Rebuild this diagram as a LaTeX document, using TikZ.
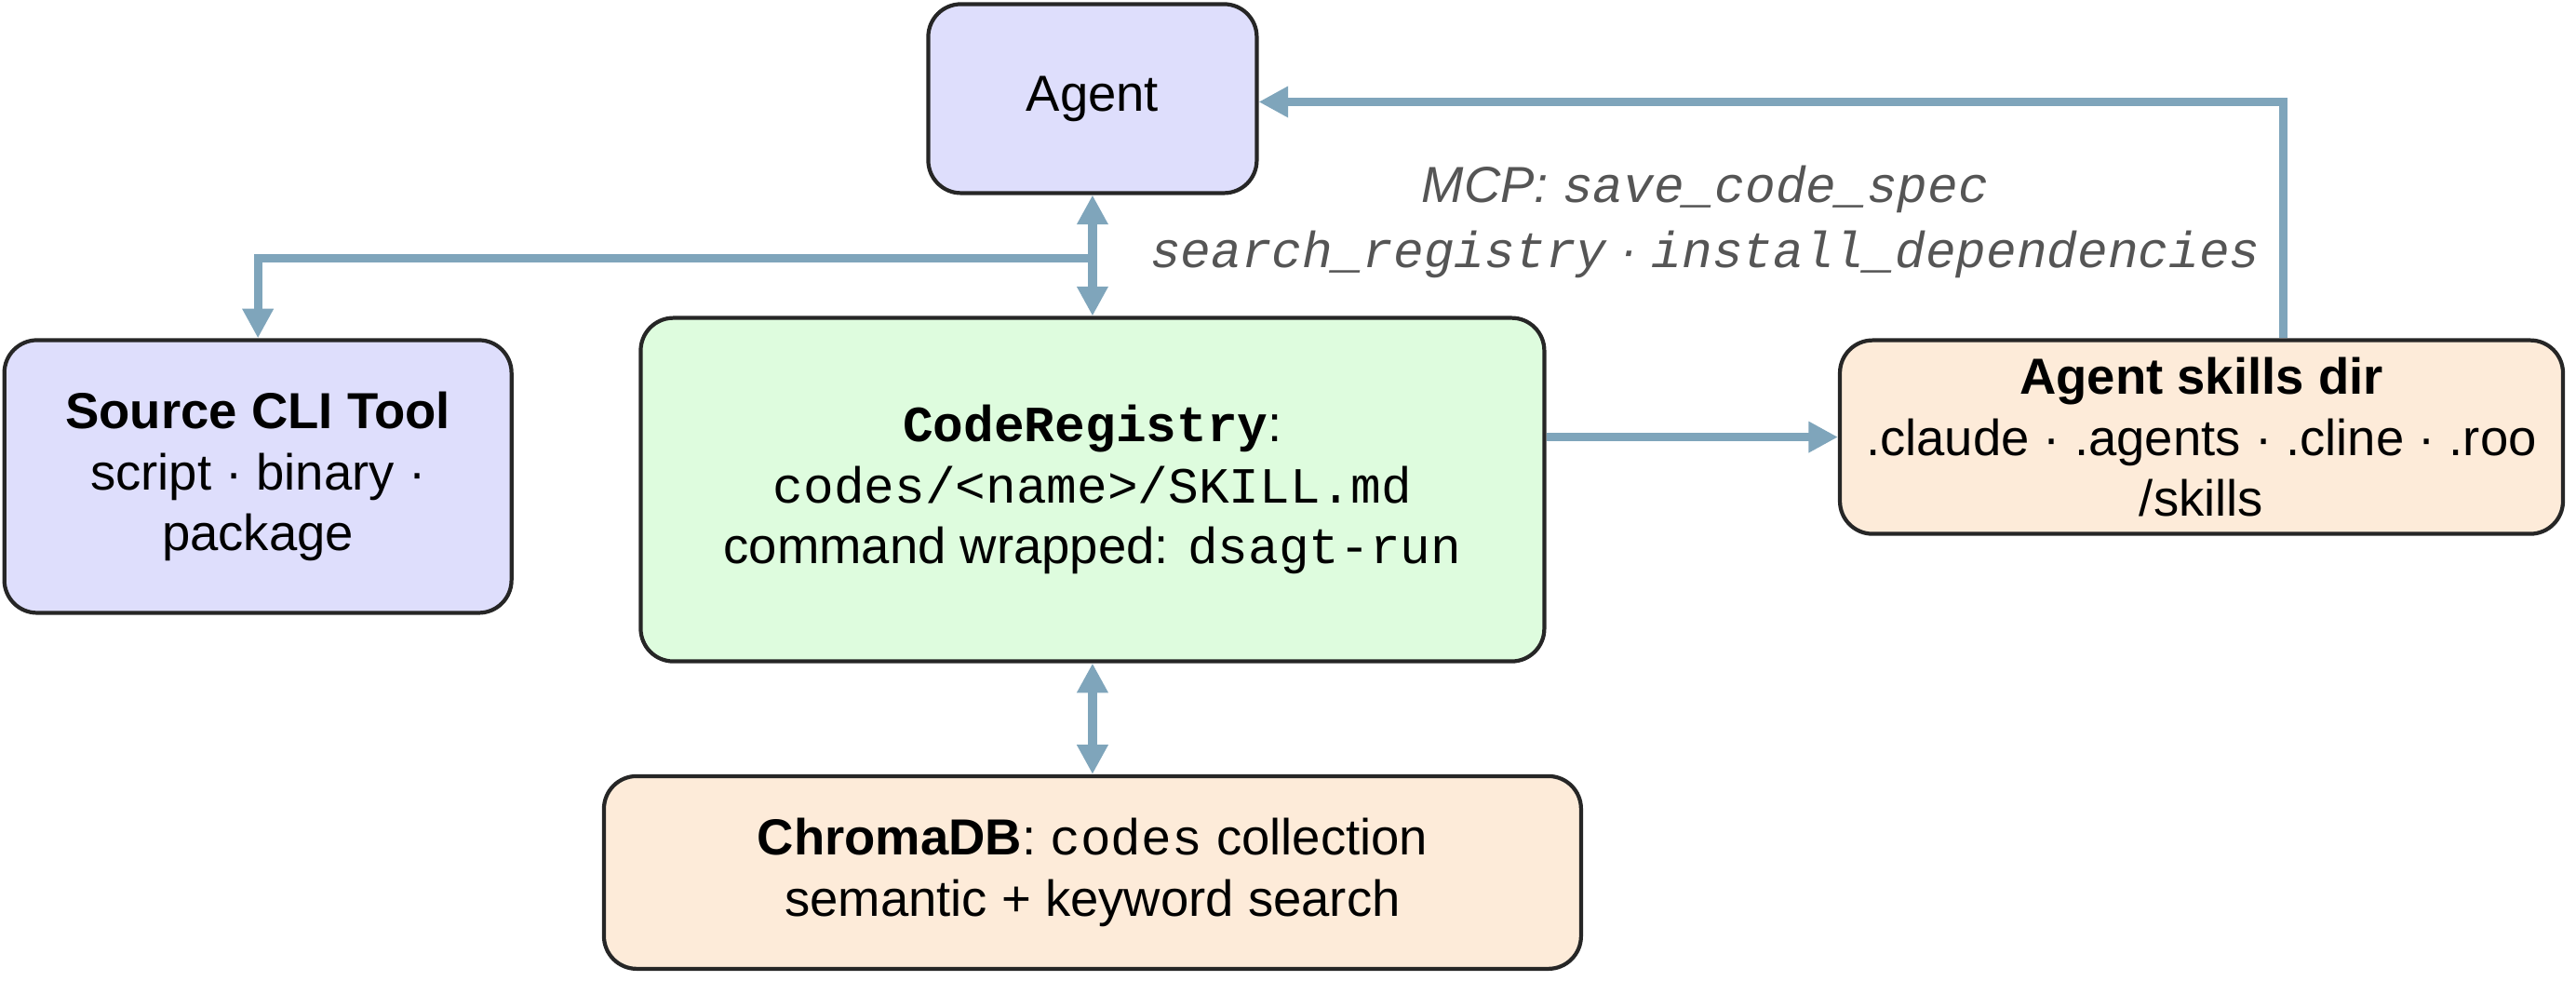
\documentclass[tikz,border=0pt]{standalone}
\usepackage{fontspec}
\setmainfont{Liberation Sans}
\setmonofont{Liberation Mono}
\usetikzlibrary{positioning,arrows.meta}
\definecolor{boxlav}{HTML}{DEDEFC}
\definecolor{boxgreen}{HTML}{DEFCDE}
\definecolor{boxorange}{HTML}{FDEBD9}
\definecolor{linkblue}{HTML}{7FA5BB}
\definecolor{labgray}{HTML}{555555}
\tikzset{
  box/.style={draw=black!85,line width=1.2pt,rounded corners=10pt,align=center,
    font=\fontsize{15.5}{18.6}\selectfont,inner sep=0pt},
  link/.style={draw=linkblue,line width=2.6pt,-{Triangle[length=9pt,width=9pt]}},
  dlink/.style={link,{Triangle[length=9pt,width=9pt]}-{Triangle[length=9pt,width=9pt]}}
}
\begin{document}
\begin{tikzpicture}[x=0.01765cm,y=-0.01765cm]
\useasboundingbox (0,0) rectangle (1568,597);

\node[box,fill=boxlav,minimum width=3.53cm,minimum height=2.03cm] (agent) at (665,60) {Agent};
\node[box,fill=boxlav,minimum width=5.45cm,minimum height=2.93cm] (cli) at (157,290)
  {\textbf{Source CLI Tool}\\script · binary ·\\package};
\node[box,fill=boxgreen,minimum width=9.71cm,minimum height=3.69cm] (reg) at (665,298)
  {\texttt{\textbf{CodeRegistry}}:\\\texttt{codes/<name>/SKILL.md}\\command wrapped: \texttt{dsagt-run}};
\node[box,fill=boxorange,minimum width=7.77cm,minimum height=2.08cm] (skills) at (1340,266)
  {\textbf{Agent skills dir}\\.claude · .agents · .cline · .roo\\/skills};
\node[box,fill=boxorange,minimum width=10.5cm,minimum height=2.07cm] (chroma) at (665,531)
  {\textbf{ChromaDB}: \texttt{codes} collection\\semantic + keyword search};

\coordinate (split) at (665,157);
\coordinate (cliturn) at (157,157);
\coordinate (skillup) at (1390,62);

\draw[dlink] (agent.south) -- (reg.north);
\draw[link] (split) -- (cliturn) -- (cli.north);
\draw[link] (reg.east |- skills.west) -- (skills.west);
\draw[link] (skills.north -| skillup) -- (skillup) -- (agent.east |- skillup);
\draw[dlink] (reg.south) -- (chroma.north);

\node[text=labgray,align=center,font=\fontsize{15.5}{20}\selectfont\itshape] (mcp) at (1038,135)
  {MCP: \texttt{save\_code\_spec}\\\texttt{search\_registry} · \texttt{install\_dependencies}};
\end{tikzpicture}
\end{document}
